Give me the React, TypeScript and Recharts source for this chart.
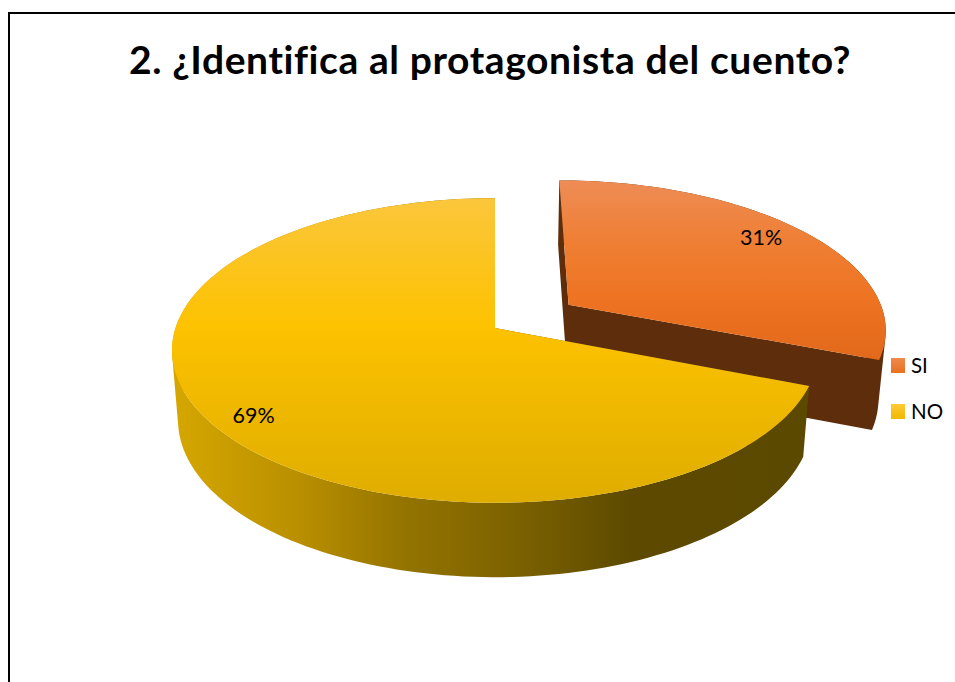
import { Legend, Pie, PieChart } from "recharts";

const TITLE = "2. ¿Identifica al protagonista del cuento?";
const categories = ["SI", "NO"];
const values = [31, 69];
const labels = ["31%", "69%"];

const data = categories.map((name, i) => ({ name, value: values[i], label: labels[i] }));

// fake 3D: Excel tilted disc, a projective map of the unit circle
const CX = 495;
const CY = 328;
const R = 319.5;
const K = 0.1475;
const TILT = 149 / R;
const BOTTOM = { r: 313.5 / R, cy: 397, a: 153.6 / R };
const EXPLODE: Record<string, number> = { SI: 0.285, NO: 0 };
const LABEL_NUDGE: Record<string, [number, number]> = { SI: [3, -8], NO: [-15, 15] };

const TOP_STOPS: Record<string, [number, string][]> = {
  SI: [
    [0, "#EE8C55"],
    [0.35, "#EF7E33"],
    [0.65, "#EE7322"],
    [1, "#E1691A"],
  ],
  NO: [
    [0, "#FBC63C"],
    [0.42, "#FDC200"],
    [1, "#DFAD00"],
  ],
};
const WALL_STOPS: Record<string, [number, string][]> = {
  SI: [
    [0, "#5E2D0B"],
    [1, "#5E2D0B"],
  ],
  NO: [
    [0, "#D6A700"],
    [0.2, "#B98F00"],
    [0.37, "#937300"],
    [0.55, "#7A6000"],
    [0.72, "#5D4A00"],
    [1, "#5C4900"],
  ],
};
const TOP_RANGE: Record<string, [number, number]> = { SI: [181, 362], NO: [198, 503] };
const LEGEND_FILL: Record<string, string> = {
  SI: "linear-gradient(#F08A50, #E8701E)",
  NO: "linear-gradient(#FFCB35, #EFB800)",
};

const rad = (d: number) => (d * Math.PI) / 180;

function projectTop(u: number, v: number): [number, number] {
  const w = 1 + K * v;
  return [CX + (R * u) / w, CY - (R * TILT * v) / w];
}

function projectBottom(u: number, v: number): [number, number] {
  const w = 1 + K * v;
  return [CX + (R * BOTTOM.r * u) / w, BOTTOM.cy - (R * BOTTOM.a * v) / w];
}

function sweep(start: number, end: number) {
  const n = Math.max(2, Math.ceil(Math.abs(end - start) / 1.5));
  return Array.from({ length: n + 1 }, (_, i) => start + ((end - start) * i) / n);
}

function toPath(pts: [number, number][]) {
  return pts.map((p, i) => `${i ? "L" : "M"}${p[0].toFixed(2)} ${p[1].toFixed(2)}`).join("") + "Z";
}

function outward(pts: [number, number][]) {
  let area = 0;
  pts.forEach((p, i) => {
    const q = pts[(i + 1) % pts.length];
    area += p[0] * q[1] - q[0] * p[1];
  });
  return area < 0 ? [...pts].reverse() : pts;
}

function Slab(props: any) {
  const { startAngle, endAngle, payload } = props;
  const name: string = payload.name;
  const mid = (startAngle + endAngle) / 2;
  const e = EXPLODE[name];
  const ou = e * Math.cos(rad(mid));
  const ov = e * Math.sin(rad(mid));
  const at = (deg: number) => [ou + Math.cos(rad(deg)), ov + Math.sin(rad(deg))] as const;

  const angles = sweep(startAngle, endAngle);
  const topArc = angles.map((d) => projectTop(...at(d)));
  const apexTop = projectTop(ou, ov);
  const apexBottom = projectBottom(ou, ov);

  const quads: string[] = [];
  for (let i = 0; i < angles.length - 1; i++) {
    quads.push(
      toPath(
        outward([
          topArc[i],
          topArc[i + 1],
          projectBottom(...at(angles[i + 1])),
          projectBottom(...at(angles[i])),
        ]),
      ),
    );
  }
  const startEnd = at(startAngle);
  const stopEnd = at(endAngle);
  quads.push(toPath(outward([apexTop, projectTop(...startEnd), projectBottom(...startEnd), apexBottom])));
  quads.push(toPath(outward([apexTop, projectTop(...stopEnd), projectBottom(...stopEnd), apexBottom])));

  const [y1, y2] = TOP_RANGE[name];
  return (
    <g>
      <defs>
        <linearGradient id={`top-${name}`} gradientUnits="userSpaceOnUse" x1={0} x2={0} y1={y1} y2={y2}>
          {TOP_STOPS[name].map(([o, c]) => (
            <stop key={o} offset={o} stopColor={c} />
          ))}
        </linearGradient>
        <linearGradient id={`wall-${name}`} gradientUnits="userSpaceOnUse" x1={172} x2={810} y1={0} y2={0}>
          {WALL_STOPS[name].map(([o, c]) => (
            <stop key={o} offset={o} stopColor={c} />
          ))}
        </linearGradient>
      </defs>
      <path d={quads.join("")} fill={`url(#wall-${name})`} />
      <path d={toPath([apexTop, ...topArc])} fill={`url(#top-${name})`} />
    </g>
  );
}

function SliceLabel(props: any) {
  const { midAngle, payload } = props;
  const name: string = payload.name;
  const e = EXPLODE[name] + 0.8;
  const [x, y] = projectTop(e * Math.cos(rad(midAngle)), e * Math.sin(rad(midAngle)));
  const [dx, dy] = LABEL_NUDGE[name];
  return (
    <text
      x={x + dx}
      y={y + dy}
      textAnchor="middle"
      dominantBaseline="central"
      fontFamily="Lato"
      fontSize={21.5}
      fill="#000"
    >
      {payload.label}
    </text>
  );
}

function LegendBox({ payload }: any) {
  return (
    <div style={{ fontFamily: "Lato", fontSize: 20.5, color: "#000" }}>
      {(payload ?? []).map((entry: any) => (
        <div key={entry.value} style={{ display: "flex", alignItems: "center", height: 46 }}>
          <span
            style={{ width: 14, height: 15, marginRight: 6, background: LEGEND_FILL[entry.value] }}
          />
          <span>{entry.value}</span>
        </div>
      ))}
    </div>
  );
}

export default function App() {
  return (
    <div style={{ position: "absolute", left: 0, top: 0, width: 955, height: 682, overflow: "hidden", background: "#fff" }}>
      <div
        style={{
          position: "absolute",
          left: 8,
          top: 12,
          width: 1000,
          height: 1000,
          border: "2px solid #000",
        }}
      />
      <div
        style={{
          position: "absolute",
          left: 0,
          top: 36,
          width: 980,
          textAlign: "center",
          fontFamily: "Lato",
          fontWeight: 700,
          fontSize: 39,
          letterSpacing: 0.6,
          lineHeight: "46px",
          color: "#000",
        }}
      >
        {TITLE}
      </div>
      <div style={{ position: "absolute", left: 0, top: 0 }}>
        <PieChart width={955} height={682} margin={{ top: 0, right: 0, bottom: 0, left: 0 }}>
          <Pie
            data={data}
            dataKey="value"
            nameKey="name"
            cx={CX}
            cy={CY}
            innerRadius={0}
            outerRadius={R}
            startAngle={90}
            endAngle={-270}
            stroke="none"
            shape={Slab}
            label={SliceLabel}
            labelLine={false}
            isAnimationActive={false}
          />
          <Legend
            layout="vertical"
            align="right"
            verticalAlign="top"
            itemSorter={null}
            content={LegendBox}
            wrapperStyle={{ position: "absolute", left: 891, top: 342, width: 64 }}
          />
        </PieChart>
      </div>
    </div>
  );
}
